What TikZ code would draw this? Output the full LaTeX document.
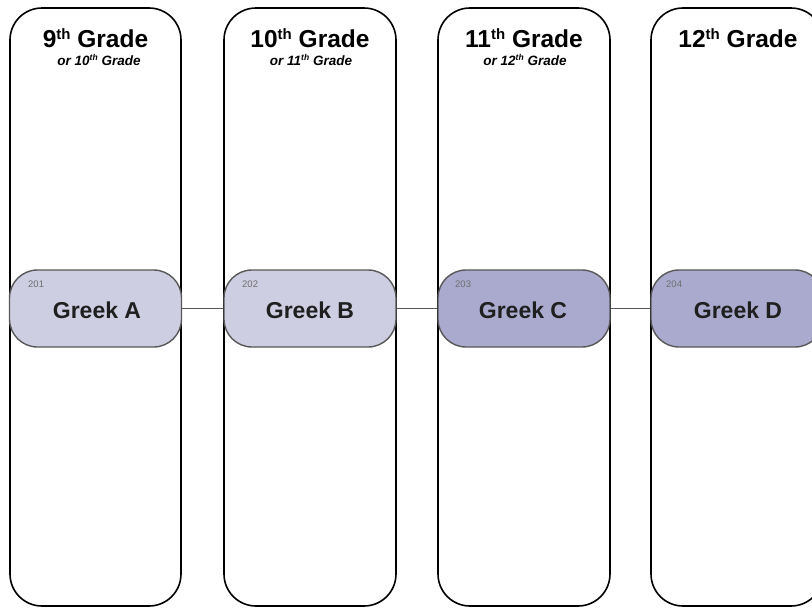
\documentclass[tikz,border=0pt]{standalone}
\usepackage{fontspec}
\setmainfont{Liberation Sans}
\definecolor{pilllight}{RGB}{206,206,226}
\definecolor{pilldark}{RGB}{170,170,206}
\definecolor{pillborder}{RGB}{88,88,88}
\definecolor{numgray}{RGB}{110,110,110}
\newcommand{\sth}[1]{\raisebox{0.3em}{\fontsize{15}{15}\selectfont #1}}
\newcommand{\ssth}[1]{\raisebox{0.3em}{\fontsize{8.5}{8.5}\selectfont #1}}
\tikzset{
  column/.style={draw=black, line width=1.6pt, rounded corners=32pt, fill=white},
  pill/.style={draw=pillborder, line width=1.4pt, rounded corners=28pt},
  link/.style={draw=pillborder, line width=0.9pt},
  title/.style={anchor=base, inner sep=0pt, font=\fontsize{24.5}{26}\selectfont\bfseries},
  subtitle/.style={anchor=base, inner sep=0pt, font=\fontsize{13.5}{15}\selectfont\bfseries\itshape},
  coursename/.style={anchor=base, inner sep=0pt, font=\fontsize{23}{25}\selectfont\bfseries, text=black!88},
  coursenum/.style={anchor=base west, inner sep=0pt, font=\fontsize{9.5}{10}\selectfont, text=numgray},
}
\begin{document}
\begin{tikzpicture}[x=1pt,y=-1pt]
\useasboundingbox (0,0) rectangle (812,608);
\clip (0,0) rectangle (812,608);
\fill[white] (0,0) rectangle (812,608);
% columns
\draw[column] (10,8) rectangle (181,606);
\draw[column] (224,8) rectangle (396,606);
\draw[column] (438,8) rectangle (610,606);
\draw[column] (651,8) rectangle (823,606);
% titles
\node[title] (t1) at (95.5,47) {9\sth{th} Grade};
\node[subtitle] (s1) at (99,65) {or 10\ssth{th} Grade};
\node[title] (t2) at (310,47) {10\sth{th} Grade};
\node[subtitle] (s2) at (311,65) {or 11\ssth{th} Grade};
\node[title] (t3) at (524,47) {11\sth{th} Grade};
\node[subtitle] (s3) at (525,65) {or 12\ssth{th} Grade};
\node[title] (t4) at (738,47) {12\sth{th} Grade};
% pills
\node[pill, fill=pilllight, minimum width=172pt, minimum height=77pt, inner sep=0pt] (pA) at (95.5,308.5) {};
\node[pill, fill=pilllight, minimum width=172pt, minimum height=77pt, inner sep=0pt] (pB) at (310,308.5) {};
\node[pill, fill=pilldark, minimum width=172pt, minimum height=77pt, inner sep=0pt] (pC) at (524,308.5) {};
\node[pill, fill=pilldark, minimum width=172pt, minimum height=77pt, inner sep=0pt] (pD) at (737,308.5) {};
% links
\draw[link] (pA.east) -- (pB.west);
\draw[link] (pB.east) -- (pC.west);
\draw[link] (pC.east) -- (pD.west);
% course texts
\node[coursename] (gA) at (97,318) {Greek A};
\node[coursename] (gB) at (310,318) {Greek B};
\node[coursename] (gC) at (523,318) {Greek C};
\node[coursename] (gD) at (738,318) {Greek D};
\node[coursenum] (nA) at (28,287) {201};
\node[coursenum] (nB) at (242,287) {202};
\node[coursenum] (nC) at (455,287) {203};
\node[coursenum] (nD) at (666,287) {204};
\end{tikzpicture}
\end{document}
